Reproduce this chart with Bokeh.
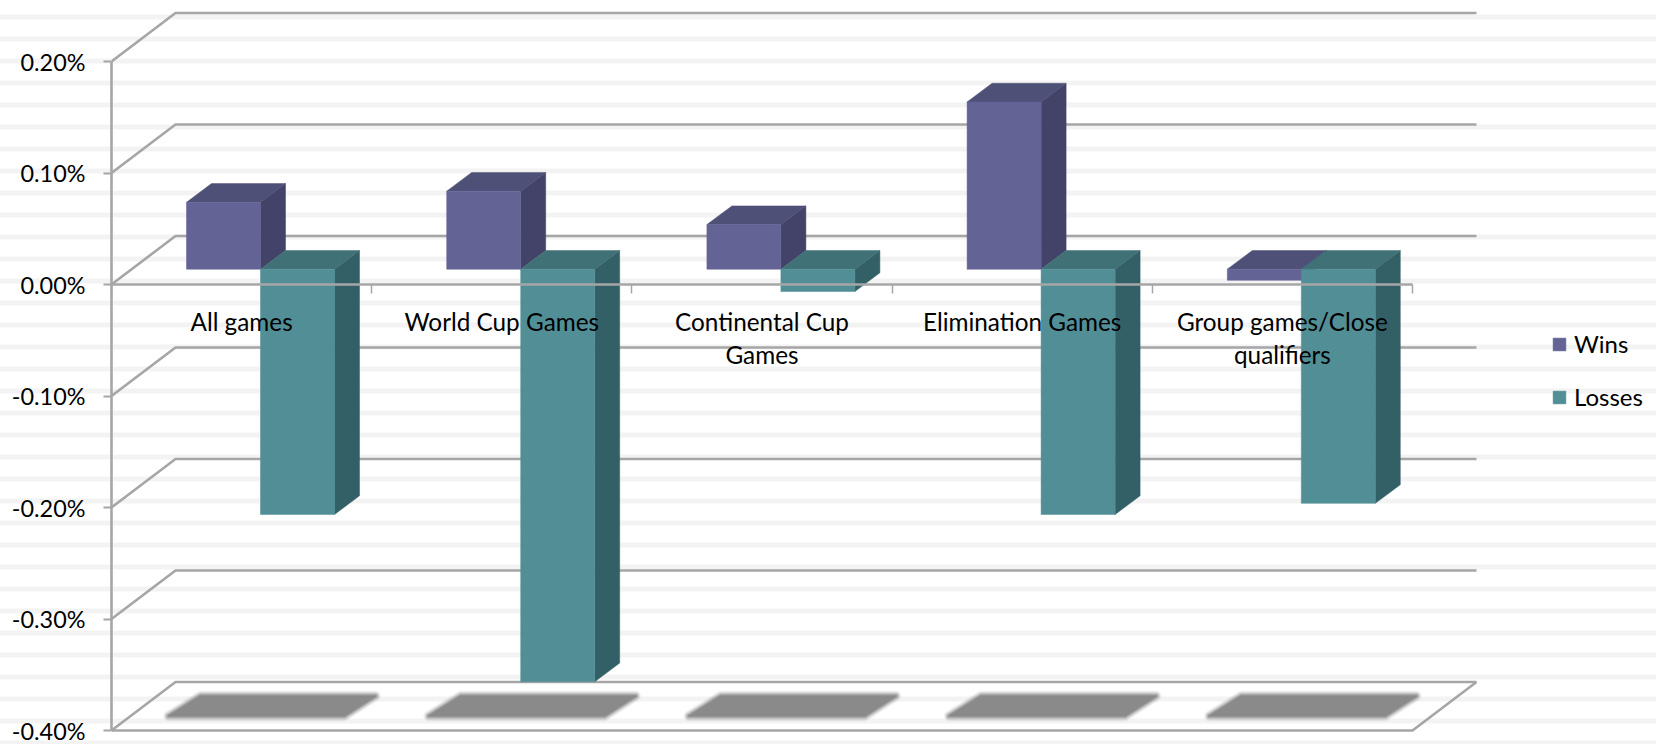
from bokeh.plotting import figure
from bokeh.embed import file_html
from bokeh.resources import INLINE
from bokeh.core.properties import value
from bokeh.models import (ColumnDataSource, FixedTicker, Legend, LegendItem,
                          LinearAxis, PrintfTickFormatter, Range1d)

categories = ["All games", "World Cup Games", "Continental Cup\nGames", "Elimination Games",
              "Group games/Close\nqualifiers"]
wins = [0.06, 0.07, 0.04, 0.15, -0.01]
losses = [-0.22, -0.37, -0.02, -0.22, -0.21]
y_ticks = [-0.4, -0.3, -0.2, -0.1, 0.0, 0.1, 0.2]

# geometry of the pseudo-3D projection, in page pixels
W, H = 1656, 744
X0, Y0 = 111, 284      # page position of category 0 / value 0
PX_X, PX_Y = 260.2, 1115.0   # pixels per category, pixels per 1 %
F_TOP, F_BOTTOM = 4, 732
WALL_DX, WALL_DY = 64 / PX_X, 48.5 / PX_Y
BAR_DX, BAR_DY = 25 / PX_X, 18.7 / PX_Y
BAR_LIFT = 15.3 / PX_Y
BAR_GAP, BAR_W = 75 / PX_X, 74 / PX_X
FONT = "Lato"
FS_AXIS = "23.4px"
FS_TEXT = "24.3px"
GRID = "#a6a6a6"
LW = 2.6

p = figure(width=W, height=H, output_backend="svg", toolbar_location=None,
           x_range=Range1d(0, (W - X0) / PX_X),
           y_range=Range1d((Y0 - F_BOTTOM) / PX_Y, (Y0 - F_TOP) / PX_Y),
           x_axis_type=None, y_axis_type=None,
           min_border_left=X0, min_border_right=0, min_border_top=F_TOP,
           min_border_bottom=H - F_BOTTOM)
p.grid.visible = False
p.outline_line_color = None
p.background_fill_color = None
p.border_fill_color = None
# faint stripes of the page background, period 22 px, behind the transparent canvas
p.styles = {"background": "repeating-linear-gradient(to bottom, #ffffff 0px, #ffffff 14px, #f3f3f3 15px, "
                          "#f3f3f3 19px, #ffffff 20px, #ffffff 22px)"}

# walls: one bent line per tick value
for v in y_ticks:
    p.line([0, WALL_DX, 5 + WALL_DX], [v, v + WALL_DY, v + WALL_DY], line_color=GRID, line_width=LW)
# floor: front edge and right edge
floor = min(y_ticks)
p.line([0, 5, 5 + WALL_DX], [floor, floor, floor + WALL_DY], line_color=GRID, line_width=LW)

# shadows on the floor: soft edge built from stacked translucent strokes
sh_xs, sh_ys = [], []
for i in range(len(categories)):
    sh_xs.append([i + 57 / PX_X, i + 89 / PX_X, i + 264 / PX_X, i + 233 / PX_X])
    sh_ys.append([floor + 14.5 / PX_Y, floor + 34.5 / PX_Y, floor + 34.5 / PX_Y, floor + 14.5 / PX_Y])
for lw, a in [(11, 0.08), (9, 0.14), (7, 0.24), (5, 0.36), (3, 0.5), (1.5, 0.7)]:
    p.patches(sh_xs, sh_ys, fill_alpha=0.0, line_color="#8a8a8a", line_alpha=a, line_width=lw, line_join="round")
p.patches(sh_xs, sh_ys, fill_color="#8a8a8a", line_color=None)


def bar_faces(vals, slot):
    front = dict(x=[], y=[])
    top = dict(x=[], y=[])
    side = dict(x=[], y=[])
    for i, v in enumerate(vals):
        l = i + BAR_GAP + slot * BAR_W
        r = l + BAR_W
        hi = max(v, 0) + BAR_LIFT
        lo = min(v, 0) + BAR_LIFT
        front["x"].append([l, r, r, l])
        front["y"].append([lo, lo, hi, hi])
        top["x"].append([l, r, r + BAR_DX, l + BAR_DX])
        top["y"].append([hi, hi, hi + BAR_DY, hi + BAR_DY])
        side["x"].append([r, r + BAR_DX, r + BAR_DX, r])
        side["y"].append([lo, lo + BAR_DY, hi + BAR_DY, hi])
    return front, top, side


renderers = {}
for name, vals, slot, c_front, c_top, c_side in [
    ("Wins", wins, 0, "#636396", "#4f5077", "#434268"),
    ("Losses", losses, 1, "#528e96", "#407176", "#336067"),
]:
    front, top, side = bar_faces(vals, slot)
    p.patches(side["x"], side["y"], fill_color=c_side, line_color=c_side, line_width=0.5)
    p.patches(top["x"], top["y"], fill_color=c_top, line_color=c_top, line_width=0.5)
    renderers[name] = p.patches(front["x"], front["y"], fill_color=c_front, line_color=c_front, line_width=0.5)

# axes
yaxis = LinearAxis(ticker=FixedTicker(ticks=y_ticks), formatter=PrintfTickFormatter(format="%.2f%%"),
                   bounds=(min(y_ticks), max(y_ticks)),
                   axis_line_color=GRID, axis_line_width=LW,
                   major_tick_line_color=GRID, major_tick_line_width=2, major_tick_in=0, major_tick_out=8,
                   minor_tick_line_color=None, major_label_standoff=18,
                   major_label_text_font=FONT, major_label_text_font_size=FS_AXIS, major_label_text_color="black")
p.add_layout(yaxis, "left")

xaxis = LinearAxis(ticker=FixedTicker(ticks=list(range(len(categories) + 1))), fixed_location=0,
                   bounds=(0, len(categories)),
                   axis_line_color=GRID, axis_line_width=LW,
                   major_tick_line_color=GRID, major_tick_line_width=1.5, major_tick_in=0, major_tick_out=9,
                   minor_tick_line_color=None, major_label_text_font_size="0px", major_label_standoff=0,
                   major_label_text_color=None)
p.add_layout(xaxis, "below")

# category labels sit inside the plot, above the bars
src = ColumnDataSource(dict(x=[i + 0.5 for i in range(len(categories))], y=[0] * len(categories), t=categories))
p.text("x", "y", text="t", source=src, text_font=value(FONT), text_font_size=value(FS_TEXT), text_color="black",
       text_align="center", text_baseline="top", y_offset=22, text_line_height=1.14, level="overlay")

legend = Legend(items=[LegendItem(label="Wins", renderers=[renderers["Wins"]]),
                       LegendItem(label="Losses", renderers=[renderers["Losses"]])],
                location=(1440, 321), background_fill_alpha=0, border_line_color=None,
                glyph_width=16, glyph_height=16, label_standoff=7, spacing=24,
                label_text_font=FONT, label_text_font_size="24px", label_text_color="black",
                padding=10, margin=0)
p.add_layout(legend)

open("out.html", "w").write(file_html(p, INLINE))
